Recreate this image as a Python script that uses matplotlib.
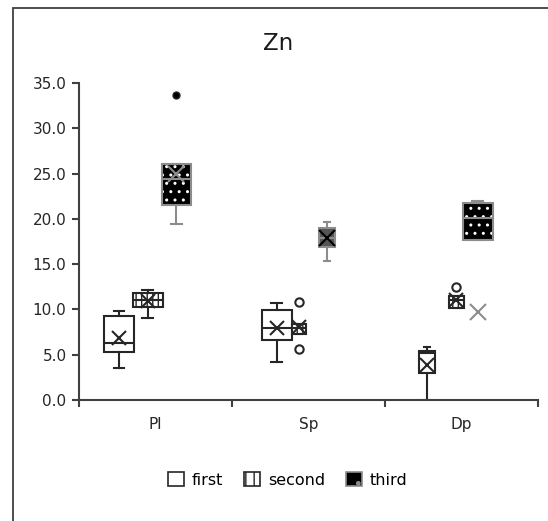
import matplotlib
matplotlib.use("Agg")
import matplotlib.pyplot as plt
from matplotlib.patches import Patch, PathPatch, Rectangle

# values
categories = ["Pl", "Sp", "Dp"]
series = ["first", "second", "third"]

first_q1 = [5.3, 6.6, 3.0]
first_med = [6.3, 8.0, 5.2]
first_q3 = [9.3, 9.9, 5.45]
first_lo = [3.5, 4.2, 0.0]
first_hi = [9.8, 10.7, 5.9]
first_mean = [6.8, 7.9, 3.85]
first_fliers = [[], [], []]

second_q1 = [10.3, 7.25, 10.2]
second_med = [11.0, 8.0, 11.0]
second_q3 = [11.8, 8.4, 11.5]
second_lo = [9.1, 7.25, 10.2]
second_hi = [12.2, 8.4, 11.5]
second_mean = [10.95, 8.1, 11.0]
second_fliers = [[], [10.85, 5.66], [12.5]]

third_q1 = [21.5, 16.9, 17.7]
third_med = [24.4, 17.9, 20.05]
third_q3 = [26.1, 18.95, 21.7]
third_lo = [19.4, 15.4, 17.7]
third_hi = [26.1, 19.6, 22.0]
third_mean = [25.0, 17.9, 9.75]
third_fliers = [[33.7], [], []]

yticks = [0, 5, 10, 15, 20, 25, 30, 35]


def make_stats(q1, med, q3, lo, hi, mean, fliers):
    return [dict(q1=q1[i], med=med[i], q3=q3[i], whislo=lo[i], whishi=hi[i],
                 mean=mean[i], fliers=fliers[i]) for i in range(len(q1))]


stats = [
    make_stats(first_q1, first_med, first_q3, first_lo, first_hi, first_mean, first_fliers),
    make_stats(second_q1, second_med, second_q3, second_lo, second_hi, second_mean, second_fliers),
    make_stats(third_q1, third_med, third_q3, third_lo, third_hi, third_mean, third_fliers),
]

# layout: offset of each box from its category centre and box widths
offsets = [[-0.239, -0.208, -0.225],
           [-0.052, -0.064, -0.036],
           [0.137, 0.121, 0.106]]
widths = [[0.196, 0.196, 0.104],
          [0.196, 0.092, 0.098],
          [0.19, 0.105, 0.196]]

dark = "#262626"
grey = "#8c8c8c"

fig = plt.figure(figsize=(5.48, 5.21), dpi=100)
ax = fig.add_axes([0.1442, 0.2322, 0.8376, 0.6085])

# outer chart frame
fig.patches.append(Rectangle((13 / 548, -0.05), 1.0, 1 - 8 / 521 + 0.05,
                             transform=fig.transFigure, fill=False,
                             edgecolor="#404040", linewidth=1.3))

for s in range(3):
    pos = [c + 1 + offsets[s][c] for c in range(3)]
    w = widths[s]
    caps = [x * 0.35 for x in w]
    if s < 2:
        col = dark
        hatch = None if s == 0 else "|||"
        res = ax.bxp(stats[s], positions=pos, widths=w, capwidths=caps,
                     patch_artist=True, showmeans=True, manage_ticks=False,
                     boxprops=dict(facecolor="white", edgecolor=col, linewidth=1.5, hatch=hatch),
                     whiskerprops=dict(color=col, linewidth=1.5),
                     capprops=dict(color=col, linewidth=1.5),
                     medianprops=dict(color=col, linewidth=1.5),
                     meanprops=dict(marker="x", markersize=10, markeredgecolor=col,
                                    markeredgewidth=1.5),
                     flierprops=dict(marker="o", markersize=6, markerfacecolor="white",
                                     markeredgecolor=dark, markeredgewidth=1.5))
    else:
        res = ax.bxp(stats[s], positions=pos, widths=w, capwidths=caps,
                     patch_artist=True, showmeans=True, manage_ticks=False,
                     boxprops=dict(facecolor="black", edgecolor="white", linewidth=0, hatch=".."),
                     whiskerprops=dict(color=grey, linewidth=1.5),
                     capprops=dict(color=grey, linewidth=1.5),
                     medianprops=dict(color=grey, linewidth=1.5),
                     meanprops=dict(marker="x", markersize=11, markeredgecolor=grey,
                                    markeredgewidth=1.5, zorder=4),
                     flierprops=dict(marker="o", markersize=5, markerfacecolor="black",
                                     markeredgecolor=dark))
        for b in res["boxes"]:
            ax.add_patch(PathPatch(b.get_path(), facecolor="none", edgecolor=grey,
                                   linewidth=1.5, zorder=3))
        # the small Sp box looks solid grey in the reference
        res["boxes"][1].set_facecolor("#555555")
        res["boxes"][1].set_hatch(None)
        res["means"][1].set_markeredgecolor("black")

ax.set_xlim(0.5, 3.5)
ax.set_ylim(0, 35)
ax.set_yticks(yticks)
ax.set_yticklabels([f"{v:.1f}" for v in yticks])
ax.set_xticks([0.5, 1.5, 2.5, 3.5])
ax.set_xticklabels([])
ax.set_xticks([1, 2, 3], minor=True)
ax.set_xticklabels(categories, minor=True)
ax.tick_params(axis="x", which="minor", length=0, pad=12, labelsize=11, colors="#262626")
ax.tick_params(axis="x", which="major", length=5, width=1.5, color="#404040")
ax.tick_params(axis="y", length=5, width=1.5, color="#404040", labelsize=11,
               labelcolor="#262626", pad=4)

for side in ["top", "right"]:
    ax.spines[side].set_visible(False)
for side in ["left", "bottom"]:
    ax.spines[side].set_color("#404040")
    ax.spines[side].set_linewidth(1.5)

fig.text(0.507, 1 - 43 / 521, "Zn", ha="center", va="center", fontsize=16.5, color="#1a1a1a")

handles = [
    Patch(facecolor="white", edgecolor=dark, linewidth=1.2),
    Patch(facecolor="white", edgecolor=dark, linewidth=1.2, hatch="||"),
    Patch(facecolor="black", edgecolor=grey, linewidth=1.2, hatch="."),
]
fig.legend(handles, series, loc="center", bbox_to_anchor=(0.525, 1 - 480 / 521),
           ncol=3, frameon=False, fontsize=11.5, handlelength=1.0, handleheight=1.0,
           handletextpad=0.5, columnspacing=1.3)

fig.savefig("out.png", dpi=100)
